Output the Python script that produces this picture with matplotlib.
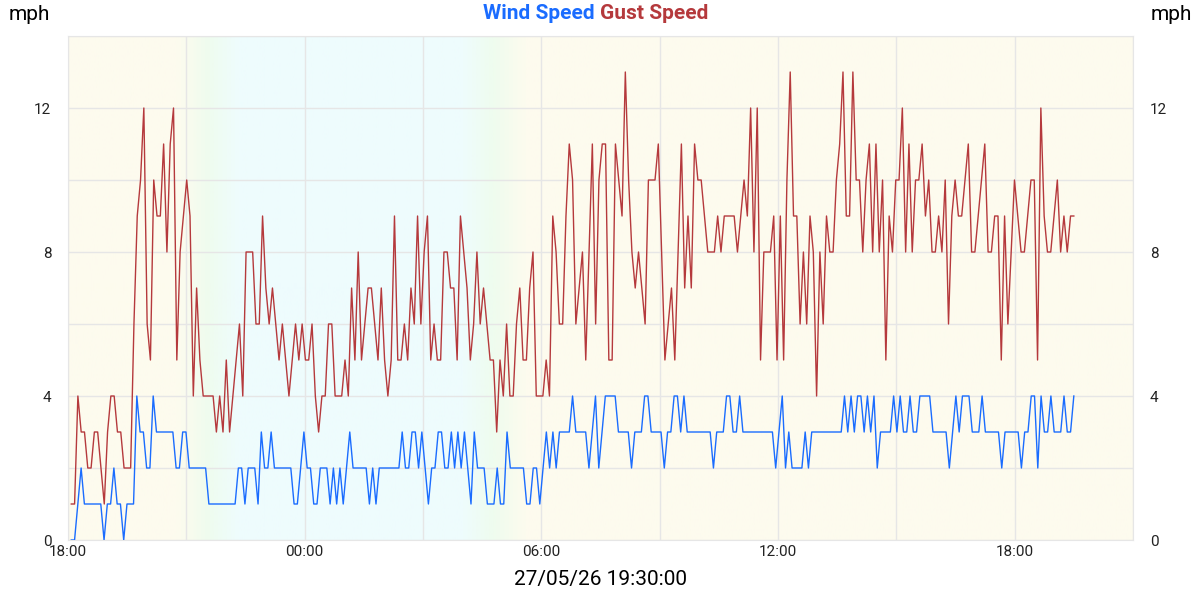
import numpy as np
import matplotlib
matplotlib.use("Agg")
import matplotlib.pyplot as plt
import matplotlib.dates as mdates
from matplotlib.colors import LinearSegmentedColormap
import datetime as dt

plt.rcParams['font.family'] = ['Roboto', 'DejaVu Sans']

start = dt.datetime(2026, 5, 25, 18, 5)
end = dt.datetime(2026, 5, 26, 19, 30)

gust = [1,1,4,3,3,2,2,3,3,2,1,3,4,4,3,3,2,2,2,6,9,10,12,6,5,10,9,9,11,8,11,12,5,8,9,10,9,4,7,5,4,4,4,4,3,4,3,5,3,4,5,6,
        4,8,8,8,6,6,9,7,6,7,6,5,6,5,4,5,6,5,6,5,5,6,4,3,4,4,6,6,4,4,4,5,4,7,5,8,5,6,7,7,6,5,7,5,4,5,9,5,5,6,5,
        7,6,9,6,8,9,5,6,5,5,8,8,7,7,5,9,8,7,5,6,8,6,7,6,5,5,3,5,4,6,4,4,6,7,5,5,7,8,4,4,4,5,4,9,8,6,6,9,11,10,
        6,7,8,5,8,11,6,10,11,11,5,5,11,10,9,13,10,8,7,8,7,6,10,10,10,11,8,5,6,7,5,8,11,7,9,7,11,10,10,9,8,8,8,9,8,9,9,9,9,8,9,10,
        9,12,8,12,5,8,8,8,9,5,9,5,10,13,9,9,6,8,6,9,8,4,8,6,9,8,8,10,11,13,9,9,13,10,10,8,10,11,8,11,8,10,5,9,8,10,10,12,8,11,8,10,10,
        11,9,10,8,8,9,8,10,6,9,10,9,9,10,11,8,8,9,10,11,8,8,9,9,5,9,6,8,10,9,8,8,9,10,10,5,12,9,8,8,9,10,8,9,8,9,9]

wind = [0,0,1,2,1,1,1,1,1,1,0,1,1,2,1,1,0,1,1,1,4,3,3,2,2,4,3,3,3,3,3,3,2,2,3,3,2,2,2,2,2,2,1,1,1,1,1,1,1,1,1,2,
        2,1,2,2,2,1,3,2,2,3,2,2,2,2,2,2,1,1,2,3,2,2,1,1,2,2,2,1,2,1,2,1,2,3,2,2,2,2,2,1,2,1,2,2,2,2,2,2,
        2,3,2,2,3,3,2,3,2,1,2,2,3,3,2,2,3,2,3,2,3,2,1,3,2,2,2,1,1,1,2,1,1,3,2,2,2,2,2,1,1,2,2,1,2,3,2,3,2,3,3,
        3,3,4,3,3,3,3,2,3,4,2,3,4,4,4,4,3,3,3,3,2,3,3,3,4,4,3,3,3,3,2,3,3,4,4,3,4,3,3,3,3,3,3,3,3,2,3,3,3,4,4,3,
        3,4,3,3,3,3,3,3,3,3,3,3,2,3,4,2,3,2,2,2,2,3,2,3,3,3,3,3,3,3,3,3,3,4,3,4,3,4,4,3,4,3,4,2,3,3,3,3,4,3,4,3,3,4,
        3,3,4,4,4,4,3,3,3,3,3,2,3,4,3,4,4,4,3,3,3,4,3,3,3,3,3,2,3,3,3,3,3,2,3,3,4,4,2,4,3,3,4,3,3,3,4,3,3,4]

y_ticks = [0, 4, 8, 12]
date_label = "27/05/26 19:30:00"

t_g = [start + (end - start) * f for f in np.linspace(0, 1, len(gust))]
t_w = [start + (end - start) * f for f in np.linspace(0, 1, len(wind))]

fig = plt.figure(figsize=(12, 6), dpi=100)
ax = fig.add_axes([68/1200, 60/600, (1133-68)/1200, (540-36)/600])

x0 = mdates.date2num(dt.datetime(2026, 5, 25, 18, 0))
x1 = mdates.date2num(dt.datetime(2026, 5, 26, 21, 0))
cream, green, blue = '#fdfbee', '#effcee', '#eefcfd'
def frac(h):
    return (h) / 27.0
cmap = LinearSegmentedColormap.from_list('bg', [
    (0, cream), (frac(2.75), cream), (frac(3.5), green), (frac(4.25), blue),
    (frac(10.0), blue), (frac(10.8), green), (frac(11.6), cream), (1, cream)])
ax.imshow(np.linspace(0, 1, 1000)[None, :], aspect='auto', cmap=cmap,
          extent=[x0, x1, 0, 14], zorder=0)

ax.plot(t_g, gust, color='#b5393c', lw=1, zorder=3)
ax.plot(t_w, wind, color='#1a6cff', lw=1, zorder=3)

ax.set_xlim(x0, x1)
ax.set_ylim(0, 14)
ax.xaxis.set_major_locator(mdates.HourLocator(byhour=[0, 6, 12, 18]))
ax.xaxis.set_major_formatter(mdates.DateFormatter('%H:%M'))
ax.xaxis.set_minor_locator(mdates.HourLocator(byhour=range(0, 24, 3)))
ax.set_yticks(y_ticks)
ax.set_yticks(range(0, 15, 2), minor=True)
ax.grid(True, which='both', color='#e6e6e6', lw=1, zorder=1)
ax.set_axisbelow(True)
ax.tick_params(which='both', length=0, labelsize=11, colors='#222222')
ax.tick_params(axis='y', labelright=True, right=False)
ax.tick_params(axis='y', pad=12)
for s in ax.spines.values():
    s.set_color('#e6e6e6')

fig.text(0.007, 0.975, 'mph', fontsize=15, ha='left', va='center')
fig.text(0.993, 0.975, 'mph', fontsize=15, ha='right', va='center')
fig.text(0.5, 0.977, 'Wind Speed ', color='#1a6cff', fontsize=15, fontweight='bold', ha='right', va='center')
fig.text(0.5, 0.977, 'Gust Speed', color='#b5393c', fontsize=15, fontweight='bold', ha='left', va='center')
fig.text(0.5, 0.018, date_label, fontsize=15, ha='center', va='bottom')

fig.savefig('out.png', dpi=100)
